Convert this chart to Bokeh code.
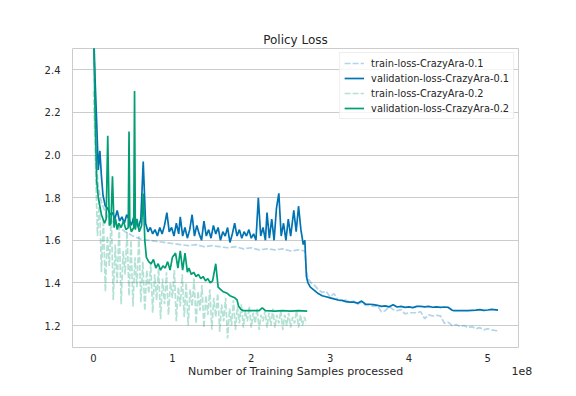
from bokeh.plotting import figure
from bokeh.models import Range1d, FixedTicker, Legend, LegendItem, PrintfTickFormatter
from bokeh.embed import file_html
from bokeh.resources import INLINE

# ---------------- data (x in units of 1e8 samples) ----------------
train01_x = [0.00, 0.03, 0.06, 0.10, 0.15, 0.20, 0.30, 0.40, 0.50, 0.60, 0.70, 0.80, 0.90,
             1.00, 1.10, 1.20, 1.30, 1.40, 1.50, 1.60, 1.70, 1.80, 1.90, 2.00, 2.10, 2.20,
             2.30, 2.40, 2.50, 2.60, 2.68, 2.70, 2.72, 2.76, 2.80, 2.85, 2.90, 2.95, 3.00,
             3.05, 3.10, 3.15, 3.20, 3.25, 3.30, 3.35, 3.40, 3.45, 3.50, 3.55, 3.60, 3.65,
             3.70, 3.75, 3.80, 3.85, 3.90, 3.95, 4.00, 4.05, 4.10, 4.15, 4.20, 4.25, 4.30,
             4.35, 4.40, 4.45, 4.50, 4.55, 4.60, 4.65, 4.70, 4.75, 4.80, 4.85, 4.90, 4.95,
             5.00, 5.05, 5.13]
train01_y = [2.55, 2.00, 1.85, 1.78, 1.73, 1.70, 1.67, 1.64, 1.62, 1.605, 1.60, 1.595, 1.59,
             1.585, 1.58, 1.575, 1.58, 1.57, 1.575, 1.57, 1.565, 1.57, 1.56, 1.565, 1.555, 1.56,
             1.555, 1.56, 1.55, 1.555, 1.55, 1.46, 1.42, 1.40, 1.39, 1.37, 1.355, 1.36, 1.335,
             1.35, 1.32, 1.315, 1.32, 1.31, 1.315, 1.30, 1.31, 1.295, 1.295, 1.29, 1.295, 1.265,
             1.27, 1.29, 1.275, 1.27, 1.275, 1.255, 1.26, 1.26, 1.26, 1.265, 1.232, 1.25, 1.245,
             1.248, 1.245, 1.21, 1.215, 1.20, 1.205, 1.195, 1.20, 1.19, 1.195, 1.185, 1.19, 1.18,
             1.185, 1.18, 1.175]

val01_x = [0.00, 0.02, 0.04, 0.06, 0.08, 0.10, 0.12, 0.15, 0.18, 0.21, 0.24, 0.27, 0.30,
           0.33, 0.36, 0.39, 0.42, 0.45, 0.48, 0.51, 0.54, 0.57, 0.60, 0.63, 0.66, 0.69,
           0.72, 0.75, 0.78, 0.81, 0.84, 0.87, 0.90, 0.93, 0.96, 0.99, 1.02, 1.05, 1.08,
           1.10, 1.13, 1.16, 1.19, 1.22, 1.25, 1.28, 1.31, 1.34, 1.37, 1.40, 1.43, 1.46,
           1.49, 1.52, 1.55, 1.58, 1.61, 1.64, 1.67, 1.70, 1.73, 1.76, 1.79, 1.82, 1.85,
           1.88, 1.91, 1.94, 1.97, 2.00, 2.03, 2.06, 2.09, 2.12, 2.15, 2.18, 2.20, 2.23,
           2.26, 2.29, 2.32, 2.35, 2.38, 2.41, 2.44, 2.47, 2.50, 2.54, 2.57, 2.60, 2.63,
           2.66, 2.68, 2.70, 2.72, 2.75, 2.80, 2.85, 2.90, 2.95, 3.00, 3.05, 3.10, 3.15,
           3.20, 3.25, 3.30, 3.35, 3.40, 3.45, 3.50, 3.55, 3.60, 3.65, 3.70, 3.75, 3.80,
           3.85, 3.90, 3.95, 4.00, 4.05, 4.10, 4.15, 4.20, 4.25, 4.30, 4.35, 4.40, 4.45,
           4.50, 4.55, 4.57, 4.65, 4.75, 4.85, 4.90, 4.95, 5.00, 5.05, 5.13]
val01_y = [2.60, 2.35, 2.15, 1.93, 2.02, 1.90, 1.81, 1.76, 1.75, 1.72, 1.73, 1.70, 1.74,
           1.69, 1.71, 1.68, 1.72, 1.70, 1.67, 1.71, 1.69, 1.66, 1.70, 1.97, 1.68, 1.64,
           1.66, 1.63, 1.65, 1.62, 1.66, 1.63, 1.67, 1.73, 1.64, 1.66, 1.62, 1.68, 1.63,
           1.71, 1.62, 1.66, 1.61, 1.65, 1.72, 1.62, 1.67, 1.63, 1.60, 1.69, 1.62, 1.65,
           1.61, 1.67, 1.63, 1.66, 1.60, 1.64, 1.62, 1.66, 1.59, 1.63, 1.68, 1.62, 1.65,
           1.61, 1.64, 1.62, 1.65, 1.61, 1.63, 1.60, 1.80, 1.62, 1.66, 1.60, 1.73, 1.61,
           1.70, 1.60, 1.75, 1.82, 1.62, 1.68, 1.60, 1.70, 1.62, 1.74, 1.64, 1.76, 1.65,
           1.58, 1.60, 1.43, 1.40, 1.38, 1.365, 1.35, 1.34, 1.335, 1.33, 1.325, 1.32, 1.318,
           1.312, 1.31, 1.31, 1.305, 1.315, 1.30, 1.30, 1.298, 1.295, 1.29, 1.292, 1.288, 1.298,
           1.287, 1.29, 1.285, 1.288, 1.284, 1.29, 1.29, 1.288, 1.29, 1.286, 1.288, 1.285, 1.287,
           1.285, 1.272, 1.27, 1.27, 1.27, 1.272, 1.275, 1.271, 1.273, 1.276, 1.272]

train02_x = [0.000, 0.025, 0.050, 0.075, 0.100, 0.125, 0.150, 0.175, 0.200, 0.225,
             0.250, 0.275, 0.300, 0.325, 0.350, 0.375, 0.400, 0.425, 0.450, 0.475,
             0.500, 0.525, 0.550, 0.575, 0.600, 0.625, 0.650, 0.675, 0.700, 0.725,
             0.750, 0.775, 0.800, 0.825, 0.850, 0.875, 0.900, 0.925, 0.950, 0.975,
             1.000, 1.025, 1.050, 1.075, 1.100, 1.125, 1.150, 1.175, 1.200, 1.225,
             1.250, 1.275, 1.300, 1.325, 1.350, 1.375, 1.400, 1.425, 1.450, 1.475,
             1.500, 1.525, 1.550, 1.575, 1.600, 1.625, 1.650, 1.675, 1.700, 1.725,
             1.750, 1.775, 1.800, 1.825, 1.850, 1.875, 1.900, 1.925, 1.950, 1.975,
             2.000, 2.025, 2.050, 2.075, 2.100, 2.125, 2.150, 2.175, 2.200, 2.225,
             2.250, 2.275, 2.300, 2.325, 2.350, 2.375, 2.400, 2.425, 2.450, 2.475,
             2.500, 2.525, 2.550, 2.575, 2.600, 2.625, 2.650, 2.675, 2.700]
train02_y = [2.30, 1.95, 1.62, 1.80, 1.45, 1.70, 1.36, 1.62, 1.48, 1.72,
             1.32, 1.58, 1.40, 1.68, 1.30, 1.55, 1.44, 1.64, 1.34, 1.60,
             1.29, 1.52, 1.38, 1.62, 1.31, 1.50, 1.27, 1.46, 1.35, 1.49,
             1.26, 1.44, 1.32, 1.47, 1.23, 1.42, 1.30, 1.45, 1.25, 1.40,
             1.33, 1.46, 1.22, 1.38, 1.29, 1.44, 1.24, 1.40, 1.20, 1.37,
             1.29, 1.42, 1.21, 1.36, 1.27, 1.39, 1.19, 1.34, 1.25, 1.37,
             1.18, 1.33, 1.24, 1.35, 1.17, 1.30, 1.22, 1.33, 1.14, 1.28,
             1.20, 1.32, 1.18, 1.29, 1.21, 1.30, 1.19, 1.27, 1.22, 1.29,
             1.19, 1.26, 1.21, 1.28, 1.18, 1.25, 1.22, 1.27, 1.19, 1.26,
             1.20, 1.28, 1.19, 1.25, 1.21, 1.27, 1.18, 1.25, 1.20, 1.26,
             1.19, 1.24, 1.21, 1.27, 1.19, 1.25, 1.20, 1.24, 1.21]

val02_x = [0.00, 0.02, 0.04, 0.06, 0.08, 0.10, 0.12, 0.14, 0.16, 0.18, 0.20, 0.22, 0.24,
           0.26, 0.28, 0.30, 0.32, 0.35, 0.38, 0.41, 0.44, 0.45, 0.46, 0.48, 0.51, 0.52,
           0.53, 0.55, 0.58, 0.61, 0.63, 0.65, 0.67, 0.70, 0.73, 0.76, 0.79, 0.82, 0.85,
           0.88, 0.91, 0.94, 0.97, 1.00, 1.04, 1.07, 1.10, 1.13, 1.16, 1.19, 1.21, 1.24,
           1.27, 1.30, 1.33, 1.36, 1.39, 1.42, 1.45, 1.48, 1.51, 1.55, 1.58, 1.61, 1.64,
           1.67, 1.70, 1.73, 1.76, 1.79, 1.82, 1.84, 1.87, 1.90, 2.00, 2.10, 2.14, 2.18,
           2.30, 2.40, 2.50, 2.60, 2.71]
val02_y = [2.60, 2.20, 1.88, 1.80, 1.76, 1.72, 1.70, 1.68, 1.70, 2.09, 1.67, 1.68, 1.90,
           1.66, 1.70, 1.65, 1.68, 1.66, 1.69, 1.65, 1.66, 2.11, 1.67, 1.64, 1.66, 2.30,
           1.65, 1.70, 1.64, 1.67, 1.82, 1.60, 1.52, 1.50, 1.49, 1.51, 1.47, 1.49, 1.46,
           1.48, 1.47, 1.50, 1.46, 1.52, 1.54, 1.47, 1.55, 1.46, 1.54, 1.45, 1.47, 1.44,
           1.45, 1.43, 1.44, 1.42, 1.43, 1.41, 1.42, 1.40, 1.41, 1.49, 1.38, 1.37, 1.36,
           1.355, 1.35, 1.34, 1.335, 1.33, 1.32, 1.29, 1.275, 1.27, 1.27, 1.27, 1.283, 1.27,
           1.268, 1.27, 1.268, 1.27, 1.268]

x_ticks = [0, 1, 2, 3, 4, 5]
y_ticks = [1.2, 1.4, 1.6, 1.8, 2.0, 2.2, 2.4]
x_label = "Number of Training Samples processed"
x_offset_text = "1e8"

BLUE = "#0173b2"
GREEN = "#029e73"
TXT = "#262626"
FONT = "DejaVu Sans"
NBSP = "\u00a0"

p = figure(width=560, height=380, output_backend="svg", toolbar_location=None,
           x_range=Range1d(-0.267, 5.39), y_range=Range1d(1.097, 2.5),
           min_border_left=72, min_border_right=42, min_border_top=48, min_border_bottom=33,
           title="Policy Loss")
p.background_fill_color = "white"
p.border_fill_color = "white"
p.outline_line_color = "#cccccc"
p.outline_line_width = 1

p.title.align = "center"
p.title.text_font = FONT
p.title.text_font_style = "normal"
p.title.text_font_size = "12px"
p.title.text_color = TXT
p.title.standoff = 4

p.xgrid.grid_line_color = None
p.ygrid.grid_line_color = "#cccccc"
p.ygrid.grid_line_width = 1

for ax in (p.xaxis[0], p.yaxis[0]):
    ax.axis_line_color = None
    ax.major_tick_line_color = None
    ax.minor_tick_line_color = None
    ax.major_tick_out = 0
    ax.major_tick_in = 0
    ax.minor_tick_out = 0
    ax.minor_tick_in = 0
    ax.major_label_text_font = FONT
    ax.major_label_text_font_size = "10px"
    ax.major_label_text_color = TXT
    ax.axis_label_text_font = FONT
    ax.axis_label_text_font_style = "normal"
    ax.axis_label_text_font_size = "11px"
    ax.axis_label_text_color = TXT

p.xaxis.ticker = FixedTicker(ticks=x_ticks)
p.yaxis.ticker = FixedTicker(ticks=y_ticks)
p.yaxis.formatter = PrintfTickFormatter(format="%.1f")
p.xaxis.major_label_standoff = 6
p.yaxis.major_label_standoff = 12
# axis label centred under the frame, with the "1e8" offset text at the right end of the same row
p.xaxis.axis_label = NBSP * 37 + x_label + NBSP * 31 + x_offset_text
p.xaxis.axis_label_standoff = 0

r1 = p.line(train01_x, train01_y, line_color=BLUE, line_alpha=0.3, line_width=1.7, line_dash="6 2")
r2 = p.line(val01_x, val01_y, line_color=BLUE, line_width=1.7)
r3 = p.line(train02_x, train02_y, line_color=GREEN, line_alpha=0.3, line_width=1.7, line_dash="6 2")
r4 = p.line(val02_x, val02_y, line_color=GREEN, line_width=1.7)

legend = Legend(items=[
    LegendItem(label="train-loss-CrazyAra-0.1", renderers=[r1]),
    LegendItem(label="validation-loss-CrazyAra-0.1", renderers=[r2]),
    LegendItem(label="train-loss-CrazyAra-0.2", renderers=[r3]),
    LegendItem(label="validation-loss-CrazyAra-0.2", renderers=[r4]),
], location="top_right")
legend.label_text_font = FONT
legend.label_text_font_size = "9.8px"
legend.label_text_color = TXT
legend.glyph_width = 20
legend.glyph_height = 12
legend.label_height = 12
legend.spacing = 3
legend.padding = 4
legend.margin = 4
legend.label_standoff = 7
legend.border_line_color = "#dddddd"
legend.background_fill_alpha = 0.8
p.add_layout(legend)

open("out.html", "w").write(file_html(p, INLINE))
